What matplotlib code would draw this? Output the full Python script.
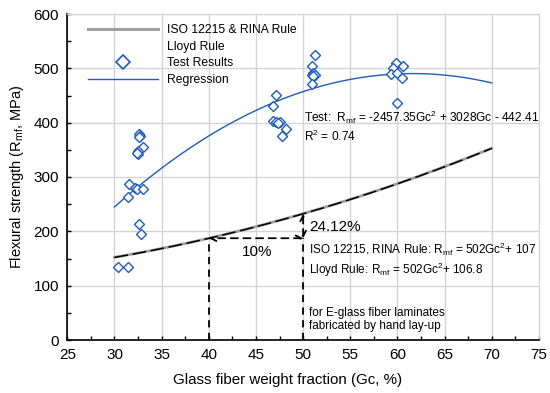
import numpy as np
import matplotlib
matplotlib.use("Agg")
import matplotlib.pyplot as plt
from matplotlib.lines import Line2D

plt.rcParams['font.family'] = ['Liberation Sans', 'DejaVu Sans']
plt.rcParams['mathtext.fontset'] = 'custom'
plt.rcParams['mathtext.rm'] = 'Liberation Sans'
plt.rcParams['mathtext.it'] = 'Liberation Sans:italic'

# test results (Gc %, Rmf MPa)
gc_test = [32.6, 32.7, 32.6, 33.0, 32.45, 32.5, 32.4, 31.5, 32.2, 32.35, 33.0, 31.4, 32.6, 32.8, 30.4, 31.4,
           47.1, 46.8, 46.8, 47.1, 47.5, 47.3, 48.2, 47.8,
           51.3, 50.95, 51.05, 50.9, 51.25, 51.05, 50.95,
           59.8, 60.6, 59.5, 59.3, 60.0, 60.5, 59.9]
rmf_test = [379, 376, 373, 355, 347, 342, 344, 288, 279, 277, 278, 264, 213, 195, 134, 135,
            451, 431, 403, 402, 401, 399, 388, 376,
            525, 505, 492, 488, 488, 485, 471,
            510, 505, 500, 490, 492, 482, 437]

# curve coefficients given on the chart
reg_coef = [-2457.35, 3028, -442.41]
iso_coef = [502, 0, 107]
lloyd_coef = [502, 0, 106.8]
gc_range = [30, 70]
gc_ref = [40, 50]

blue = '#1f5bbf'
grid_c = '#d4d4d4'

fig = plt.figure(figsize=(5.5, 3.93), dpi=100)
ax = fig.add_axes([67.3 / 550, 53 / 393, 471.7 / 550, 326 / 393])

g = np.linspace(gc_range[0], gc_range[1], 200)
ax.plot(g, np.polyval(iso_coef, g / 100), color='#a0a0a0', lw=2.0, zorder=3)
ax.plot(g, np.polyval(lloyd_coef, g / 100), color='black', lw=1.1, dashes=(9, 3), zorder=4)
ax.plot(g, np.polyval(reg_coef, g / 100), color=blue, lw=1.0, zorder=3)
ax.plot(gc_test, rmf_test, ls='none', marker='D', ms=5, mfc='white', mec=blue, mew=1.0, zorder=5)

# reference dashed lines
r40 = np.polyval(iso_coef, gc_ref[0] / 100)
r50 = np.polyval(iso_coef, gc_ref[1] / 100)
for gx in gc_ref:
    ax.plot([gx, gx], [0, r40], color='black', lw=1.3, dashes=(4, 3), zorder=4)
ax.annotate('', xy=(gc_ref[0], r40), xytext=(gc_ref[1], r40),
            arrowprops=dict(arrowstyle='<->', color='black', lw=1.3, ls=(0, (4, 3)),
                            shrinkA=0, shrinkB=0), zorder=4)
ax.annotate('', xy=(gc_ref[1], r50), xytext=(gc_ref[1], r40),
            arrowprops=dict(arrowstyle='<->', color='black', lw=1.3, ls=(0, (4, 3)),
                            shrinkA=0, shrinkB=0), zorder=4)

ax.text(45.1, 162, '10%', fontsize=11, ha='center', va='center')
ax.text(50.6, 208, '24.12%', fontsize=11, ha='left', va='center')
ax.text(50.1, 410, r'Test:  R$_{\rm mf}$ = -2457.35Gc$^2$ + 3028Gc - 442.41', fontsize=8.6, ha='left', va='center')
ax.text(50.1, 374, r'R$^2$ = 0.74', fontsize=8.6, ha='left', va='center')
ax.text(50.6, 166, r'ISO 12215, RINA Rule: R$_{\rm mf}$ = 502Gc$^2$+ 107', fontsize=8.5, ha='left', va='center')
ax.text(50.6, 129, r'Lloyd Rule: R$_{\rm mf}$ = 502Gc$^2$+ 106.8', fontsize=8.5, ha='left', va='center')
ax.text(50.6, 50, 'for E-glass fiber laminates', fontsize=8.5, ha='left', va='center')
ax.text(50.6, 26, 'fabricated by hand lay-up', fontsize=8.5, ha='left', va='center')

ax.set_xlim(25, 75)
ax.set_ylim(0, 600)
ax.set_xticks(np.arange(25, 76, 5))
ax.set_xticks(np.arange(25, 76, 2.5), minor=True)
ax.set_yticks(np.arange(0, 601, 100))
ax.set_yticks(np.arange(0, 601, 50), minor=True)
ax.grid(True, which='major', color=grid_c, lw=1.0, zorder=0)
ax.set_axisbelow(True)
ax.tick_params(which='both', direction='in', length=3, width=1, top=False, right=False, labelsize=11)
ax.tick_params(axis='x', pad=6)
ax.tick_params(axis='y', pad=6)
for s in ['top', 'right']:
    ax.spines[s].set_color(grid_c)
for s in ['left', 'bottom']:
    ax.spines[s].set_linewidth(1.2)

ax.set_xlabel('Glass fiber weight fraction (Gc, %)', fontsize=10.9)
ax.set_ylabel(r'Flexural strength (R$_{\rm mf}$, MPa)', fontsize=10.5)
ax.xaxis.set_label_coords((287.5 - 67.3) / 471.7, -(373 - 340) / 326)
ax.yaxis.set_label_coords(-(67.3 - 26) / 471.7, 0.5)

handles = [Line2D([], [], color='#a0a0a0', lw=2.2),
           Line2D([], [], ls='none'),
           Line2D([], [], ls='none', marker='D', ms=7, mfc='white', mec=blue, mew=1.2),
           Line2D([], [], color=blue, lw=1.0)]
labels = ['ISO 12215 & RINA Rule', 'Lloyd Rule', 'Test Results', 'Regression']
fig.legend(handles, labels, loc='upper left', bbox_to_anchor=(88.3 / 550, 1 - 24 / 393),
           frameon=False, fontsize=8.7, handlelength=5.8, handletextpad=0.7,
           labelspacing=0.38, borderpad=0, borderaxespad=0)

fig.savefig('out.png', dpi=100)
